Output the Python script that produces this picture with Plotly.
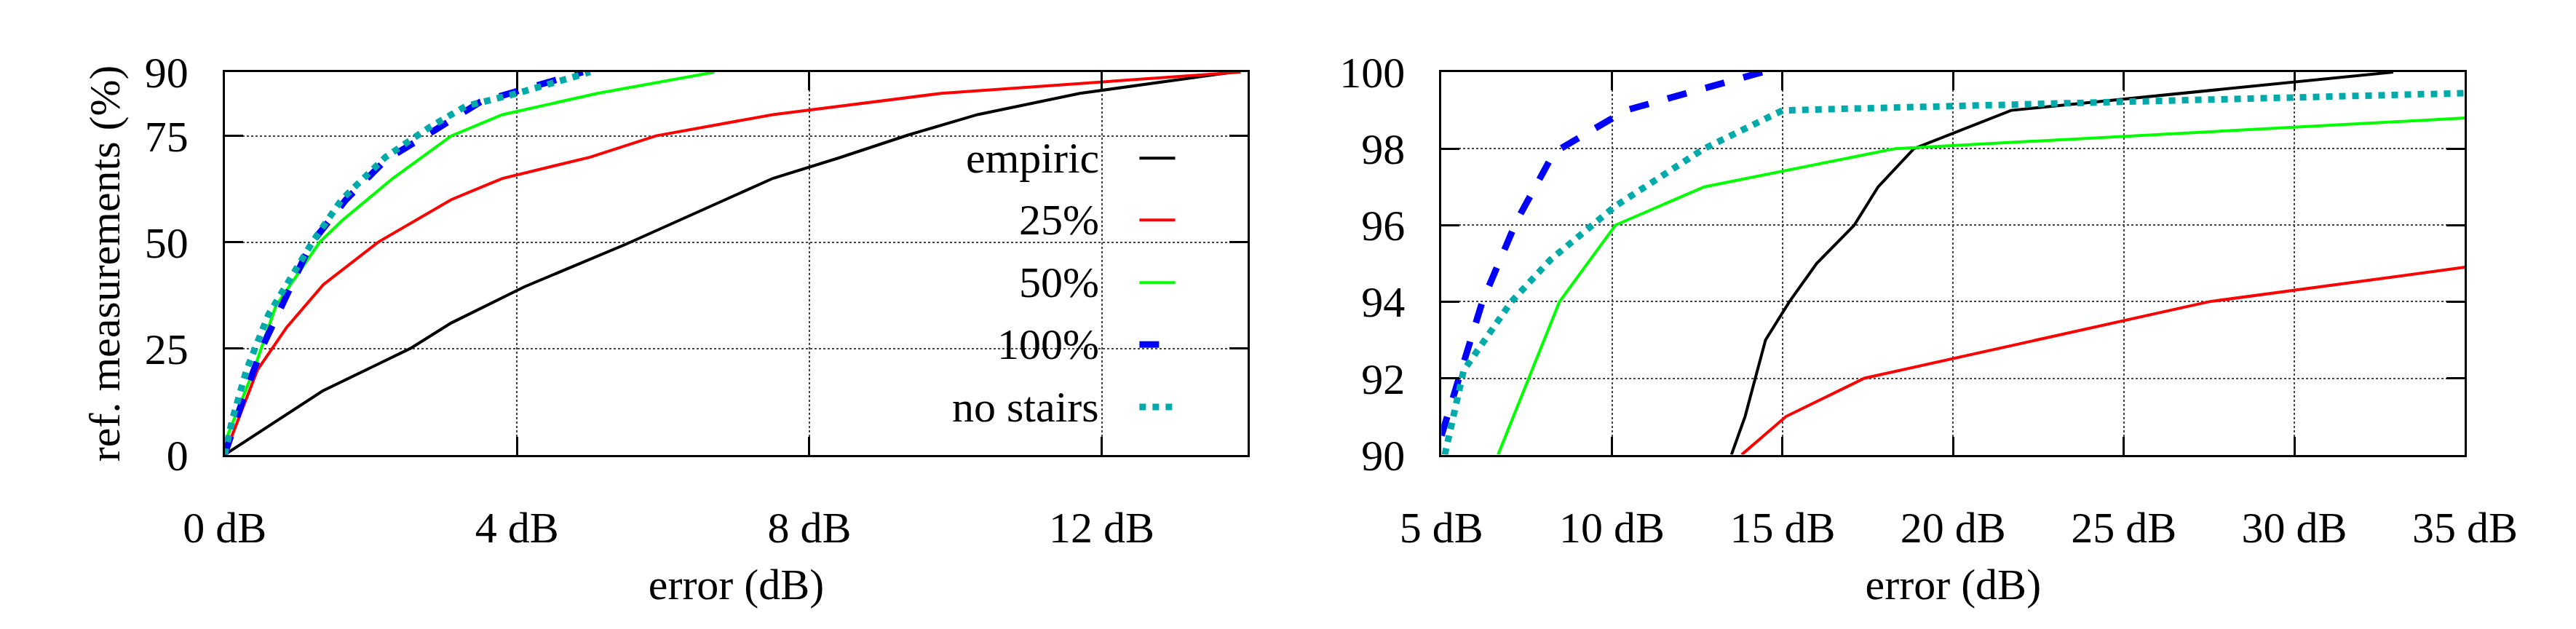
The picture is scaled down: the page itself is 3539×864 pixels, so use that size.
import plotly.graph_objects as go

# ----------------------------
# Data: left panel (0-14 dB, 0-90 %)
# ----------------------------
emp_x = [0, 1.34, 2.54, 3.1, 4.1, 5.5, 7.5, 8.4, 9.35, 10.3, 11.7, 13.8]
emp_y = [0, 15, 25, 31, 39.5, 49.6, 65, 69.8, 75.2, 80, 85, 90]
p25_x = [0, 0.45, 0.85, 1.35, 2.1, 2.6, 3.1, 3.8, 5.0, 5.9, 7.5, 9.8, 13.9]
p25_y = [0, 20, 30, 40, 50, 55, 60, 65, 70, 75, 80, 85, 90]
p50_x = [0, 0.05, 0.4, 0.7, 1.3, 1.6, 2.3, 3.1, 3.8, 5.1, 6.7]
p50_y = [0, 5, 20, 35, 50, 55, 65, 75, 80, 85, 90]
p100_x = [0, 0.25, 0.52, 1.18, 1.66, 2.2, 2.87, 3.5, 4.1, 4.9]
p100_y = [0, 13, 25.5, 49.6, 60, 69.3, 76.3, 83, 86, 90]
ns_x = [0, 0.1, 0.3, 0.6, 1.2, 1.6, 2.2, 2.8, 3.3, 4.0, 5.0]
ns_y = [0, 8, 20, 33, 50, 60, 70, 77, 82, 85, 90]

# ----------------------------
# Data: right panel (5-35 dB, 90-100 %)
# ----------------------------
emp_x2 = [13.5, 13.9, 14.5, 15.2, 16.0, 17.1, 17.8, 18.85, 21.7, 32.9]
emp_y2 = [90, 91, 93, 94, 95, 96, 97, 98, 99, 100]
p25_x2 = [13.8, 15.1, 17.4, 27.5, 35]
p25_y2 = [90, 91, 92, 94, 94.9]
p50_x2 = [6.66, 8.46, 10.1, 12.7, 18.3, 35]
p50_y2 = [90, 94, 96, 97, 98, 98.8]
p100_x2 = [5, 5.5, 6.2, 7.2, 8.3, 10.4, 14.4]
p100_y2 = [90.5, 92, 94, 96.1, 97.9, 99, 100]
ns_x2 = [5.1, 5.65, 7.05, 8.2, 10.1, 12.7, 15, 35]
ns_y2 = [90, 92.2, 94, 95.1, 96.5, 98, 99, 99.45]

names = ["empiric", "25%", "50%", "100%", "no stairs"]
colors = ["black", "#ff0000", "#00ff00", "#0000ff", "#00aaaa"]
dashes = ["solid", "solid", "solid", "dash", "dot"]
widths = [4, 4, 4, 9, 9]

left = [(emp_x, emp_y), (p25_x, p25_y), (p50_x, p50_y), (p100_x, p100_y), (ns_x, ns_y)]
right = [(emp_x2, emp_y2), (p25_x2, p25_y2), (p50_x2, p50_y2), (p100_x2, p100_y2), (ns_x2, ns_y2)]

FONT = "Liberation Serif"
FS = 60

fig = go.Figure()
for i in range(5):
    line = dict(color=colors[i], dash=dashes[i], width=widths[i])
    fig.add_trace(go.Scatter(x=left[i][0], y=left[i][1], mode="lines", line=line,
                             xaxis="x", yaxis="y", showlegend=False, cliponaxis=True))
    fig.add_trace(go.Scatter(x=right[i][0], y=right[i][1], mode="lines", line=line,
                             xaxis="x2", yaxis="y2", showlegend=False, cliponaxis=True))

axis_common = dict(showline=True, linecolor="black", linewidth=3, mirror="ticks",
                   ticks="inside", ticklen=25, tickwidth=3, tickcolor="black",
                   showgrid=True, gridcolor="#444", griddash="dot", gridwidth=1.5,
                   zeroline=False, tickfont=dict(family=FONT, size=FS, color="black"))

fig.update_layout(
    width=3539, height=864, plot_bgcolor="white", paper_bgcolor="white",
    margin=dict(l=0, r=0, t=0, b=0),
    font=dict(family=FONT, size=FS, color="black"),
    xaxis=dict(domain=[0.0712, 0.4837], range=[0, 14], tickvals=[0, 4, 8, 12],
               ticktext=["0 dB", "4 dB", "8 dB", "12 dB"], ticklabelstandoff=45,
               title=dict(text="error (dB)", standoff=25, font=dict(size=FS)), **axis_common),
    yaxis=dict(domain=[0.2674, 0.926], range=[0, 90], tickvals=[0, 25, 50, 75, 90],
               ticklabelstandoff=35,
               title=dict(text="ref. measurements (%)", standoff=15, font=dict(size=FS)),
               **axis_common),
    xaxis2=dict(domain=[0.5617, 0.9743], range=[5, 35], tickvals=[5, 10, 15, 20, 25, 30, 35],
                ticktext=[f"{v} dB" for v in [5, 10, 15, 20, 25, 30, 35]], ticklabelstandoff=45,
                title=dict(text="error (dB)", standoff=25, font=dict(size=FS)), anchor="y2",
                **axis_common),
    yaxis2=dict(domain=[0.2674, 0.926], range=[90, 100], tickvals=[90, 92, 94, 96, 98, 100],
                ticklabelstandoff=35, anchor="x2", **axis_common),
)

# legend drawn by hand, gnuplot style (text right-aligned, sample on the right)
fig.add_shape(type="rect", xref="paper", yref="paper", x0=1239 / 3539, x1=1705 / 3539,
              y0=1 - 600 / 864, y1=1 - 150 / 864, fillcolor="white", line_width=0, layer="below")
leg_y = [192, 284, 377, 469, 562]
for i, name in enumerate(names):
    yy = 1 - leg_y[i] / 864
    fig.add_annotation(text=name, xref="paper", yref="paper", x=1502 / 3539, y=yy,
                       xanchor="right", yanchor="middle", showarrow=False,
                       font=dict(family=FONT, size=FS, color="black"))
    fig.add_shape(type="line", xref="paper", yref="paper", x0=1557 / 3539, x1=1608 / 3539,
                  y0=yy, y1=yy, line=dict(color=colors[i], dash=dashes[i], width=widths[i]))

fig.write_html("out.html")
